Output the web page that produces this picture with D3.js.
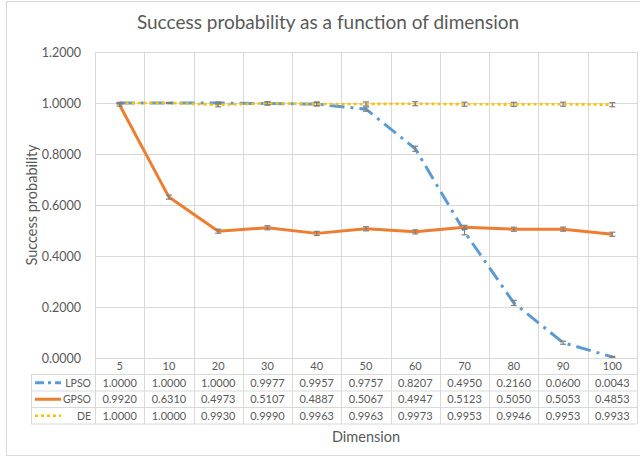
<!DOCTYPE html>
<html><head><meta charset="utf-8">
<script src="https://cdn.jsdelivr.net/npm/d3@7"></script>
<style>
body{margin:0;background:#fff;}
svg text{font-family:Lato,"Open Sans",sans-serif;fill:#595959;}
</style></head>
<body>
<svg id="chart" width="640" height="460"></svg>
<script>
const categories = ["5","10","20","30","40","50","60","70","80","90","100"];
const lpso = [1.0000,1.0000,1.0000,0.9977,0.9957,0.9757,0.8207,0.4950,0.2160,0.0600,0.0043];
const gpso = [0.9920,0.6310,0.4973,0.5107,0.4887,0.5067,0.4947,0.5123,0.5050,0.5053,0.4853];
const de   = [1.0000,1.0000,0.9930,0.9990,0.9963,0.9963,0.9973,0.9953,0.9946,0.9953,0.9933];
const lpsoErr = [0.002,0.002,0.004,0.006,0.006,0.008,0.010,0.012,0.010,0.006,0.002];
const gpsoErr = [0.004,0.008,0.008,0.008,0.008,0.008,0.008,0.008,0.008,0.008,0.008];
const deErr   = [0.002,0.002,0.008,0.006,0.008,0.008,0.008,0.008,0.008,0.008,0.008];
const yTicks = [0,0.2,0.4,0.6,0.8,1.0,1.2];
const seriesNames = ["LPSO","GPSO","DE"];

const series = [
  {name:seriesNames[0], values:lpso, err:lpsoErr, color:"#5B9BD5", width:3, dash:"15,6,3,6", key:"9,4,3,4"},
  {name:seriesNames[1], values:gpso, err:gpsoErr, color:"#ED7D31", width:3, dash:null, key:null},
  {name:seriesNames[2], values:de,   err:deErr,   color:"#FFC000", width:2.6, dash:"3,3", key:"3,3"}
];

const svg = d3.select("#chart");
const L=95, R=637, T=52, B=358;
const grid="#d9d9d9";

svg.append("rect").attr("x",6.5).attr("y",1.5).attr("width",640).attr("height",454)
  .attr("fill","#fff").attr("stroke",grid);

const x = d3.scaleBand().domain(categories).range([L,R]);
const y = d3.scaleLinear().domain([0,1.2]).range([B,T]);

svg.append("g").selectAll("line").data(yTicks).join("line")
  .attr("x1",L).attr("x2",R).attr("y1",d=>Math.round(y(d))+0.5).attr("y2",d=>Math.round(y(d))+0.5)
  .attr("stroke",grid);

const rowTops=[358,374.5,391,407.5,424];
const bounds = categories.map(c=>x(c)).concat([R]);
svg.append("g").selectAll("line").data(bounds).join("line")
  .attr("x1",d=>Math.round(d)+0.5).attr("x2",d=>Math.round(d)+0.5)
  .attr("y1",T).attr("y2",rowTops[4]).attr("stroke",grid);

svg.append("g").selectAll("line").data(rowTops.slice(1)).join("line")
  .attr("x1",31).attr("x2",R).attr("y1",d=>d).attr("y2",d=>d).attr("stroke",grid);
svg.append("line").attr("x1",31.5).attr("x2",31.5).attr("y1",rowTops[1]).attr("y2",rowTops[4]).attr("stroke",grid);

const yAxis = d3.axisLeft(y).tickValues(yTicks).tickFormat(d3.format(".4f")).tickSize(0).tickPadding(14);
const ga = svg.append("g").attr("transform",`translate(${L},0)`).call(yAxis);
ga.select(".domain").remove();
ga.selectAll("text").style("font-size","12.5px").style("fill","#595959").style("font-family","Lato, 'Open Sans', sans-serif");

svg.append("g").selectAll("text").data(categories).join("text")
  .attr("x",d=>x(d)+x.bandwidth()/2).attr("y",370).attr("text-anchor","middle")
  .style("font-size","11px").text(d=>d);

const line = d3.line().x((d,i)=>x(categories[i])+x.bandwidth()/2).y(d=>y(d));
series.forEach(s=>{
  svg.append("path").datum(s.values).attr("d",line).attr("fill","none")
    .attr("stroke",s.color).attr("stroke-width",s.width)
    .attr("stroke-dasharray",s.dash).attr("stroke-linejoin","round");
});
series.forEach(s=>{
  const g=svg.append("g").attr("stroke","#7f7f7f").attr("stroke-width",1.2);
  s.values.forEach((v,i)=>{
    const cx=x(categories[i])+x.bandwidth()/2;
    const y1=y(Math.min(1.2,v+s.err[i])), y2=y(Math.max(0,v-s.err[i]));
    g.append("line").attr("x1",cx).attr("x2",cx).attr("y1",y1).attr("y2",y2);
    g.append("line").attr("x1",cx-3).attr("x2",cx+3).attr("y1",y1).attr("y2",y1);
    g.append("line").attr("x1",cx-3).attr("x2",cx+3).attr("y1",y2).attr("y2",y2);
  });
});

series.forEach((s,r)=>{
  const mid=(rowTops[r+1]+rowTops[r+2])/2;
  svg.append("line").attr("x1",35).attr("x2",61).attr("y1",mid).attr("y2",mid)
    .attr("stroke",s.color).attr("stroke-width",s.width).attr("stroke-dasharray",s.key);
  svg.append("text").attr("x",91).attr("y",mid+4).attr("text-anchor","end")
    .style("font-size","10.5px").text(s.name);
  svg.append("g").selectAll("text").data(s.values).join("text")
    .attr("x",(d,i)=>x(categories[i])+x.bandwidth()/2).attr("y",mid+4).attr("text-anchor","middle")
    .style("font-size","11px").text(d=>d3.format(".4f")(d));
});

svg.append("text").attr("x",328).attr("y",29).attr("text-anchor","middle")
  .style("font-size","19px").text("Success probability as a function of dimension");
svg.append("text").attr("x",366).attr("y",442).attr("text-anchor","middle")
  .style("font-size","14.5px").text("Dimension");
svg.append("text").attr("transform","translate(37,205) rotate(-90)").attr("text-anchor","middle")
  .style("font-size","14.5px").text("Success probability");
</script>
</body></html>
